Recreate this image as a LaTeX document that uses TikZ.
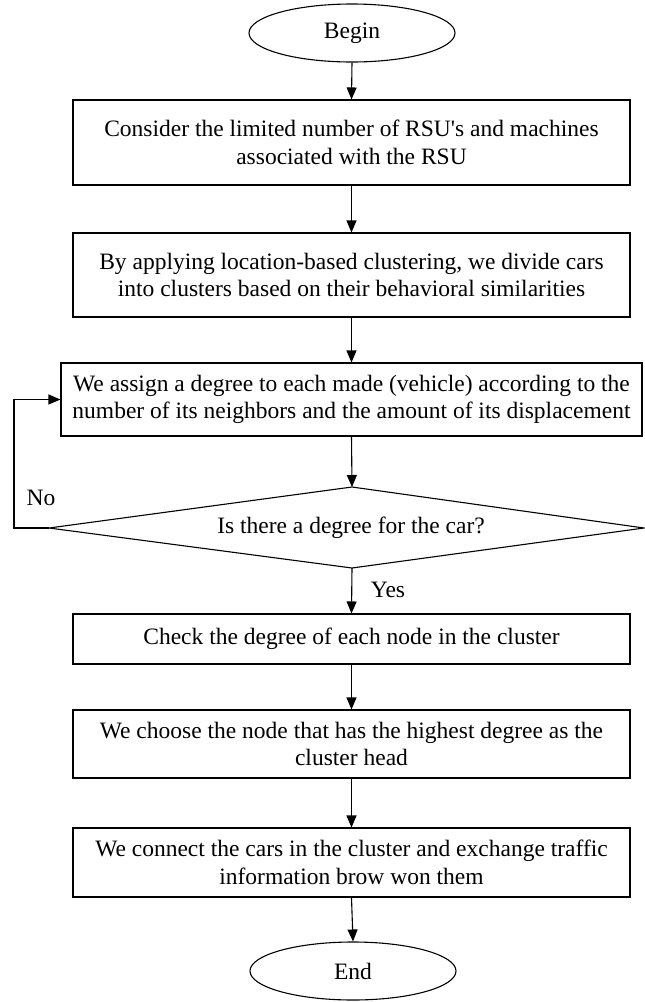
\documentclass[tikz,border=0pt]{standalone}
\usepackage{fontspec}
\setmainfont{Liberation Serif}[Ligatures=TeXOff]
\usetikzlibrary{arrows.meta,shapes.geometric}
\begin{document}
\begin{tikzpicture}[x=1pt,y=-1pt,
  every node/.style={font=\fontsize{23.5}{27.5}\selectfont},
  procbox/.style={draw,line width=1.1pt,inner sep=0pt,align=center,minimum width=557pt},
  term/.style={draw,ellipse,line width=1.1pt,inner sep=0pt,minimum width=206pt,minimum height=58pt},
  arr/.style={line width=1.1pt,-{Triangle[length=12pt,width=10pt]}},
  lbl/.style={inner sep=0pt}]
\useasboundingbox (0,0) rectangle (645,1002);
\node[term] (begin) at (352,33) {Begin};
\node[procbox,minimum height=85pt] (b1) at (351.5,142.5) {Consider the limited number of RSU's and machines\\associated with the RSU};
\node[procbox,minimum height=84pt] (b2) at (351.5,275) {By applying location-based clustering, we divide cars\\into clusters based on their behavioral similarities};
\node[procbox,minimum height=73pt,minimum width=581pt] (b3) at (351.5,399.5) {We assign a degree to each made (vehicle) according to the\\number of its neighbors and the amount of its displacement};
\coordinate (dl) at (49,528);
\coordinate (dt) at (352,487);
\coordinate (dr) at (644,528);
\coordinate (db) at (352,568);
\draw[line width=1.1pt] (dl) -- (dt) -- (dr) -- (db) -- cycle;
\node[lbl] (dtext) at (351,528) {Is there a degree for the car?};
\node[procbox,minimum height=50pt] (b4) at (351.5,639) {Check the degree of each node in the cluster};
\node[procbox,minimum height=68pt] (b5) at (351.5,744) {We choose the node that has the highest degree as the\\cluster head};
\node[procbox,minimum height=69pt] (b6) at (351.5,862.5) {We connect the cars in the cluster and exchange traffic\\information brow won them};
\node[term] (end) at (353,971) {End};
\node[lbl] (yes) at (388,590) {Yes};
\node[lbl] (no) at (41,498) {No};
\coordinate (lp) at (14,528);
\draw[arr] (begin.south) -- (b1.north);
\draw[arr] (b1.south) -- (b2.north);
\draw[arr] (b2.south) -- (b3.north);
\draw[arr] (b3.south) -- (dt);
\draw[arr] (db) -- (b4.north);
\draw[arr] (b4.south) -- (b5.north);
\draw[arr] (b5.south) -- (b6.north);
\draw[arr] (b6.south) -- (end.north);
\draw[arr] (dl) -- (lp) |- (b3.west);
\end{tikzpicture}
\end{document}
